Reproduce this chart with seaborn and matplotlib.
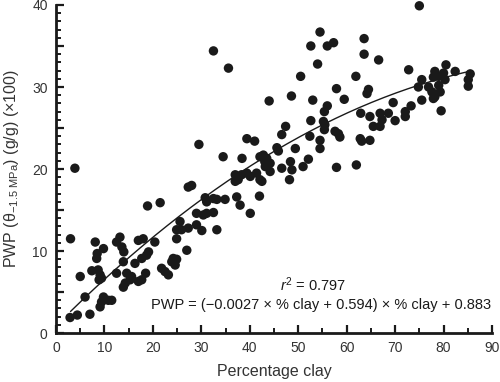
import numpy as np
import pandas as pd
import matplotlib
matplotlib.use("Agg")
import matplotlib.pyplot as plt
from matplotlib.ticker import MultipleLocator, FuncFormatter
import seaborn as sns

clay = [2.9, 4.4, 7.0, 9.1, 9.4, 9.8, 10.8, 11.5, 6.0, 5.0, 7.4, 8.7, 9.1, 8.9, 9.4,
        8.1, 9.8, 8.5, 8.4, 3.0, 3.9, 13.2, 12.5, 13.6, 14.0, 13.9, 12.5, 14.6, 15.6,
        15.3, 14.3, 13.9, 17.0, 18.0, 20.4, 19.1, 18.7, 17.7, 16.3, 18.5, 17.0, 17.7,
        21.8, 22.5, 23.2, 24.2, 23.9, 24.9, 24.6, 18.9, 21.5, 24.9, 27.0, 25.6, 24.9,
        25.9, 27.3, 29.0, 30.1, 33.2, 29.0, 30.4, 31.1, 32.5, 30.8, 31.1, 32.5, 33.2,
        34.9, 27.3, 28.0, 37.3, 38.0, 42.0, 40.1, 37.0, 37.6, 38.3, 39.4, 40.1, 41.4,
        42.1, 37.0, 42.5, 44.2, 43.2, 44.2, 34.5, 38.4, 42.1, 42.8, 43.5, 43.1, 29.5,
        39.4, 41.0, 32.5, 35.6, 44.0, 45.6, 45.9, 46.6, 47.4, 49.4, 48.4, 48.7, 46.6,
        48.2, 51.0, 52.1, 57.9, 62.0, 52.4, 54.5, 54.5, 52.6, 57.6, 58.3, 58.6, 55.2,
        55.5, 55.4, 56.0, 55.4, 53.0, 48.6, 59.5, 57.9, 50.5, 54.0, 52.6, 56.0, 57.3,
        54.5, 63.6, 63.6, 66.6, 61.9, 64.5, 64.2, 62.9, 64.8, 65.5, 66.9, 67.3, 68.6,
        66.9, 70.0, 69.6, 62.8, 63.1, 64.8, 72.1, 72.1, 73.3, 72.8, 75.5, 75.0, 80.5,
        82.4, 85.5, 85.1, 85.1, 78.2, 77.9, 79.0, 80.0, 80.3, 79.0, 79.3, 78.2, 77.9,
        75.5, 74.8, 76.9, 77.6, 79.5]
pwp = [1.9, 2.2, 2.3, 3.2, 3.8, 4.4, 4.0, 4.0, 4.4, 6.9, 7.6, 7.7, 7.1, 6.5, 6.7,
       11.1, 10.3, 9.7, 9.1, 11.5, 20.1, 11.7, 11.1, 10.5, 9.9, 8.7, 7.3, 7.3, 6.9,
       6.5, 6.1, 5.6, 11.3, 11.5, 11.1, 9.9, 9.5, 9.1, 8.5, 7.3, 6.3, 6.5,
       7.9, 7.5, 7.1, 9.1, 8.7, 9.0, 8.3, 15.5, 15.9, 11.5, 10.1, 13.6, 12.6,
       12.6, 12.8, 13.2, 12.5, 12.6, 14.6, 14.4, 14.6, 14.7, 16.5, 16.0, 16.4, 16.3,
       16.3, 17.8, 18.0, 16.6, 15.6, 16.7, 14.6, 19.3, 18.7, 19.3, 19.5, 19.1, 19.5,
       18.7, 18.5, 18.5, 19.7, 20.3, 20.7, 21.5, 21.3, 21.5, 21.7, 21.3, 20.9, 23.0,
       23.7, 23.4, 34.4, 32.3, 28.3, 22.6, 22.2, 24.2, 25.2, 22.5, 20.9, 19.9, 20.1,
       18.7, 20.3, 21.2, 20.2, 20.5, 24.0, 23.5, 22.5, 25.9, 24.6, 24.3, 23.9, 25.8,
       25.4, 24.8, 27.7, 27.0, 28.4, 28.9, 28.5, 29.8, 31.3, 32.8, 35.0, 35.0, 35.4,
       36.7, 35.9, 34.0, 33.3, 31.3, 29.7, 29.2, 26.8, 26.4, 25.2, 26.8, 26.0, 26.8,
       25.2, 25.9, 28.1, 23.7, 23.4, 23.5, 27.0, 26.4, 27.7, 32.1, 28.4, 39.9, 32.7,
       31.9, 31.6, 30.9, 30.1, 31.9, 31.2, 31.3, 31.7, 30.9, 30.2, 29.4, 28.8, 28.6,
       30.9, 30.0, 30.0, 29.4, 27.1]

# fitted curve coefficients shown in the chart
coef_a = -0.0027
coef_b = 0.594
coef_c = 0.883
fit_range = [3.0, 85.5]

xlabel = "Percentage clay"
ylabel = "PWP (\u03b8$_{-1.5\\ \\mathrm{MPa}}$) (g/g) (\u00d7100)"
r2_text = r"$r^2$ = 0.797"
eq_text = "PWP = (\u22120.0027 \u00d7 % clay + 0.594) \u00d7 % clay + 0.883"

sns.set_style("ticks")
plt.rcParams["font.family"] = ["Liberation Sans", "DejaVu Sans"]
plt.rcParams["mathtext.fontset"] = "custom"
plt.rcParams["mathtext.rm"] = "Liberation Sans"
plt.rcParams["mathtext.it"] = "Liberation Sans:italic"

fig = plt.figure(figsize=(5.0, 3.82), dpi=100)
ax = fig.add_axes([0.112, 0.128, 0.872, 0.859])

df = pd.DataFrame({"clay": clay, "pwp": pwp})
sns.scatterplot(data=df, x="clay", y="pwp", ax=ax, color="#1a1a1a", s=46,
                edgecolor="none", linewidth=0, zorder=3, clip_on=False)

xs = np.linspace(fit_range[0], fit_range[1], 200)
fit = pd.DataFrame({"x": xs, "y": (coef_a * xs + coef_b) * xs + coef_c})
sns.lineplot(data=fit, x="x", y="y", ax=ax, color="#1a1a1a", linewidth=1.0, zorder=4)

ax.set_xlim(0, 90)
ax.set_ylim(0, 40)
ax.xaxis.set_major_locator(MultipleLocator(10))
ax.xaxis.set_minor_locator(MultipleLocator(5))
ax.yaxis.set_major_locator(MultipleLocator(5))
ax.yaxis.set_minor_locator(MultipleLocator(1))
ax.yaxis.set_major_formatter(FuncFormatter(lambda v, p: f"{int(v)}" if v % 10 == 0 else ""))

for s in ["top", "right"]:
    ax.spines[s].set_visible(False)
for s in ["left", "bottom"]:
    ax.spines[s].set_linewidth(2.0)
    ax.spines[s].set_color("#1a1a1a")

ax.tick_params(axis="both", which="major", direction="in", length=6, width=1.6,
               colors="#1a1a1a", labelcolor="#333333", labelsize=10, pad=6)
ax.tick_params(axis="both", which="minor", direction="in", length=3.5, width=1.4,
               colors="#1a1a1a")

ax.set_xlabel(xlabel, fontsize=11.5, color="#333333", labelpad=6)
ax.set_ylabel(ylabel, fontsize=11.5, color="#333333", labelpad=8)

ax.text(46.3, 5.9, r2_text, fontsize=10.5, color="#1a1a1a", ha="left", va="center")
ax.text(89.8, 3.4, eq_text, fontsize=10.5, color="#1a1a1a", ha="right", va="center")

fig.savefig("out.png", dpi=100)
